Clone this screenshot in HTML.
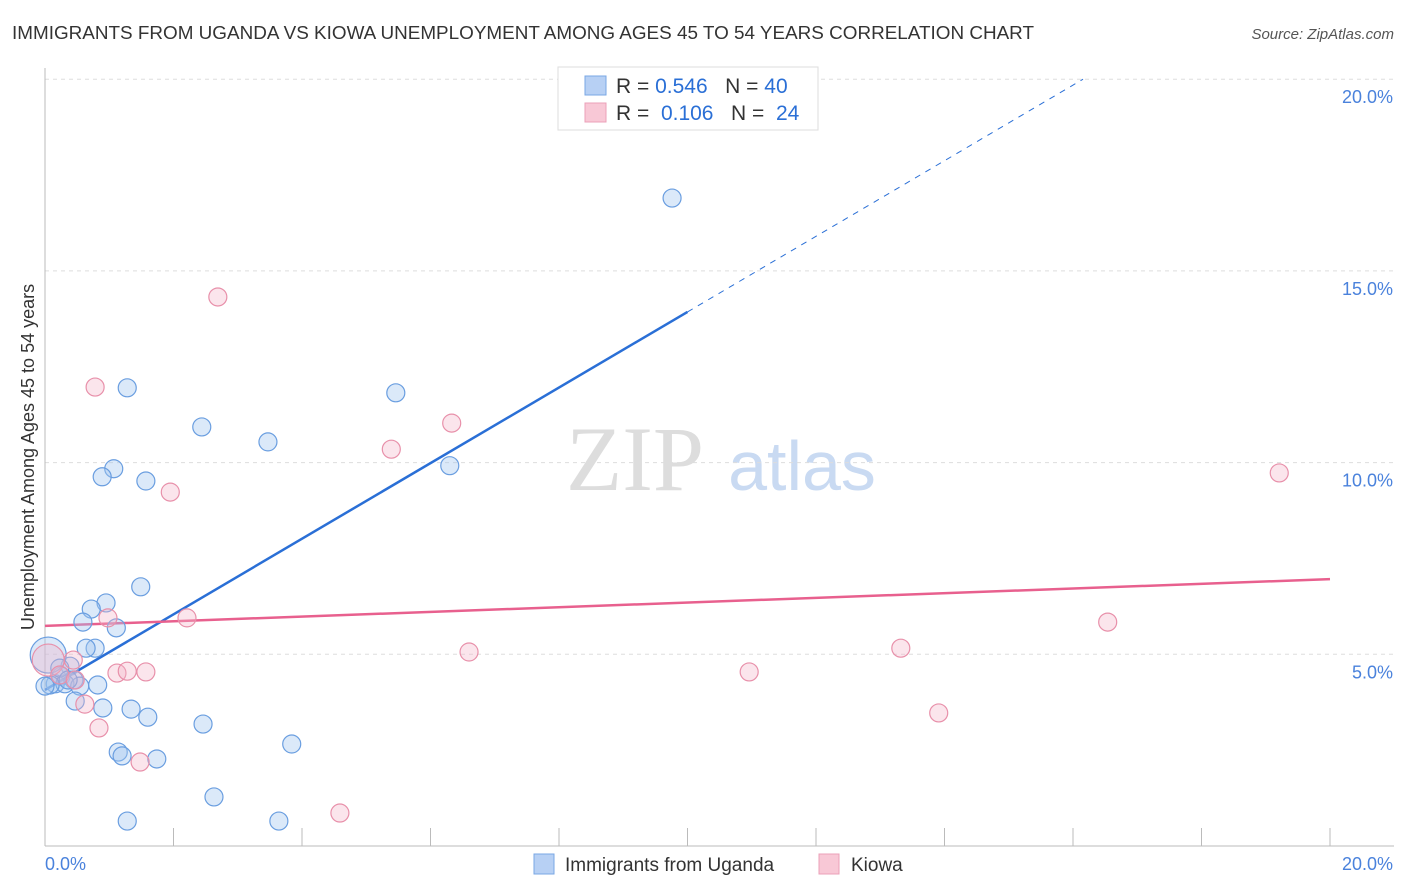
<!DOCTYPE html>
<html><head><meta charset="utf-8"><style>
body{margin:0;background:#fff;font-family:"Liberation Sans",sans-serif;}
svg{display:block}
</style></head><body>
<svg id="chart" width="1406" height="892">
<text x="12" y="39" font-size="18" fill="#333" textLength="1022" lengthAdjust="spacingAndGlyphs">IMMIGRANTS FROM UGANDA VS KIOWA UNEMPLOYMENT AMONG AGES 45 TO 54 YEARS CORRELATION CHART</text>
<text x="1394" y="39" font-size="15" fill="#555" font-style="italic" text-anchor="end">Source: ZipAtlas.com</text>
<g>
<text x="635" y="490" font-size="92" font-family="Liberation Serif,serif" fill="#ddd" text-anchor="middle">ZIP</text>
<text x="802" y="490" font-size="70" fill="#c9daf2" text-anchor="middle">atlas</text>
</g>
<g id="grid"></g>
<g id="axes"></g>
<g id="lines"></g>
<g id="points"></g>
<text transform="translate(34,457) rotate(-90)" font-size="18" fill="#333" text-anchor="middle">Unemployment Among Ages 45 to 54 years</text>
<g>
<rect x="558" y="67" width="260" height="63" fill="#fff" stroke="#ddd"/>
<rect x="585" y="76" width="21" height="19" fill="#b7d0f4" stroke="#7aa7e4"/>
<text x="616" y="93" font-size="21" fill="#333">R = <tspan fill="#2a6fd6">0.546</tspan>&#160;&#160;&#160;N = <tspan fill="#2a6fd6">40</tspan></text>
<rect x="585" y="103" width="21" height="19" fill="#f8c8d6" stroke="#eba0b8"/>
<text x="616" y="120" font-size="21" fill="#333">R = &#160;<tspan fill="#2a6fd6">0.106</tspan>&#160;&#160;&#160;N = &#160;<tspan fill="#2a6fd6">24</tspan></text>
</g>
<g>
<rect x="534" y="854" width="20" height="20" fill="#b7d0f4" stroke="#7aa7e4"/>
<text x="565" y="871" font-size="19" fill="#333">Immigrants from Uganda</text>
<rect x="819" y="854" width="20" height="20" fill="#f8c8d6" stroke="#eba0b8"/>
<text x="851" y="871" font-size="19" fill="#333">Kiowa</text>
</g>
</svg>
<script>
const yTicks=[5,10,15,20];
const yTickLabels=["5.0%","10.0%","15.0%","20.0%"];
const xTickLabels=["0.0%","20.0%"];
const ugandaX=[9.76,1.28,5.46,2.44,3.47,6.30,1.07,0.89,1.57,1.49,0.95,0.72,0.59,1.11,0.78,0.64,0.39,0.25,0.45,0.16,0.31,0.08,0.54,0.82,0.47,0.90,1.34,1.60,2.46,3.84,1.14,1.20,1.74,2.63,1.28,3.64,0.05,0.23,0.36,0.0];
const ugandaY=[16.90,11.95,11.82,10.93,10.54,9.92,9.84,9.63,9.52,6.76,6.34,6.18,5.84,5.69,5.16,5.16,4.69,4.43,4.33,4.23,4.23,4.20,4.17,4.20,3.78,3.60,3.57,3.36,3.18,2.66,2.45,2.35,2.27,1.28,0.65,0.65,4.98,4.64,4.33,4.17];
const kiowaX=[2.69,0.78,6.33,5.39,1.95,19.21,0.98,2.21,16.54,0.44,6.60,13.32,1.12,1.28,1.57,10.96,0.62,13.91,0.84,1.48,4.59,0.05,0.23,0.47];
const kiowaY=[14.32,11.97,11.03,10.35,9.23,9.73,5.95,5.95,5.84,4.85,5.06,5.16,4.51,4.56,4.54,4.54,3.70,3.47,3.08,2.19,0.86,4.85,4.46,4.33];
const ugandaTrend=[4.07,0.986];
const kiowaTrend=[5.74,0.061];
const NS="http://www.w3.org/2000/svg";
const sx=v=>45+v/20*1285, sy=v=>846-v/5*191.7;
function mk(t,p,a){const e=document.createElementNS(NS,t);for(const k in a)e.setAttribute(k,a[k]);p.appendChild(e);return e;}
const grid=document.getElementById('grid'),axes=document.getElementById('axes'),lines=document.getElementById('lines'),pts=document.getElementById('points');
yTicks.forEach((t,i)=>{
 const l=mk('line',grid,{x1:45,x2:1394,y1:sy(t),y2:sy(t),stroke:'#ddd','stroke-dasharray':'4,4'});
 
 
 const tx=mk('text',axes,{x:1393,y:sy(t)+24,'font-size':18,fill:'#4a82dc','text-anchor':'end'});
 tx.textContent=yTickLabels[i];
 
 
});
const ya=mk('line',axes,{x1:45,x2:45,y1:68,y2:846,stroke:'#bbb'});


const xa=mk('line',axes,{x1:45,x2:1394,y1:846,y2:846,stroke:'#bbb'});


for(let i=0;i<=10;i++){const t=mk('line',axes,{x1:sx(i*2),x2:sx(i*2),y1:828,y2:846,stroke:'#bbb'});
 
 }
[0,20].forEach((v,i)=>{const t=mk('text',axes,{x:i?1393:45,y:870,'font-size':18,fill:'#4a82dc','text-anchor':i?'end':'start'});t.textContent=xTickLabels[i];
 
 });
const f=(c,x)=>c[0]+c[1]*x;
const ub=mk('line',lines,{x1:sx(0),y1:sy(f(ugandaTrend,0)),x2:sx(10),y2:sy(f(ugandaTrend,10)),stroke:'#2a6fd6','stroke-width':2.5});


const xe=(20-ugandaTrend[0])/ugandaTrend[1];
const ud=mk('line',lines,{x1:sx(10),y1:sy(f(ugandaTrend,10)),x2:sx(xe),y2:sy(20),stroke:'#2a6fd6','stroke-width':1,'stroke-dasharray':'6,6'});


const kl=mk('line',lines,{x1:sx(0),y1:sy(f(kiowaTrend,0)),x2:sx(20),y2:sy(f(kiowaTrend,20)),stroke:'#e8608e','stroke-width':2.5});


ugandaX.forEach((x,i)=>{const c=mk('circle',pts,{cx:sx(x),cy:sy(ugandaY[i]),r:i==36?18:9,fill:'rgba(160,196,240,0.38)',stroke:'#6a9ee0','stroke-width':1.2});
 
 });
kiowaX.forEach((x,i)=>{const c=mk('circle',pts,{cx:sx(x),cy:sy(kiowaY[i]),r:i==21?16:9,fill:'rgba(244,180,200,0.35)',stroke:'#e890aa','stroke-width':1.2});
 
 });
</script>
</body></html>
